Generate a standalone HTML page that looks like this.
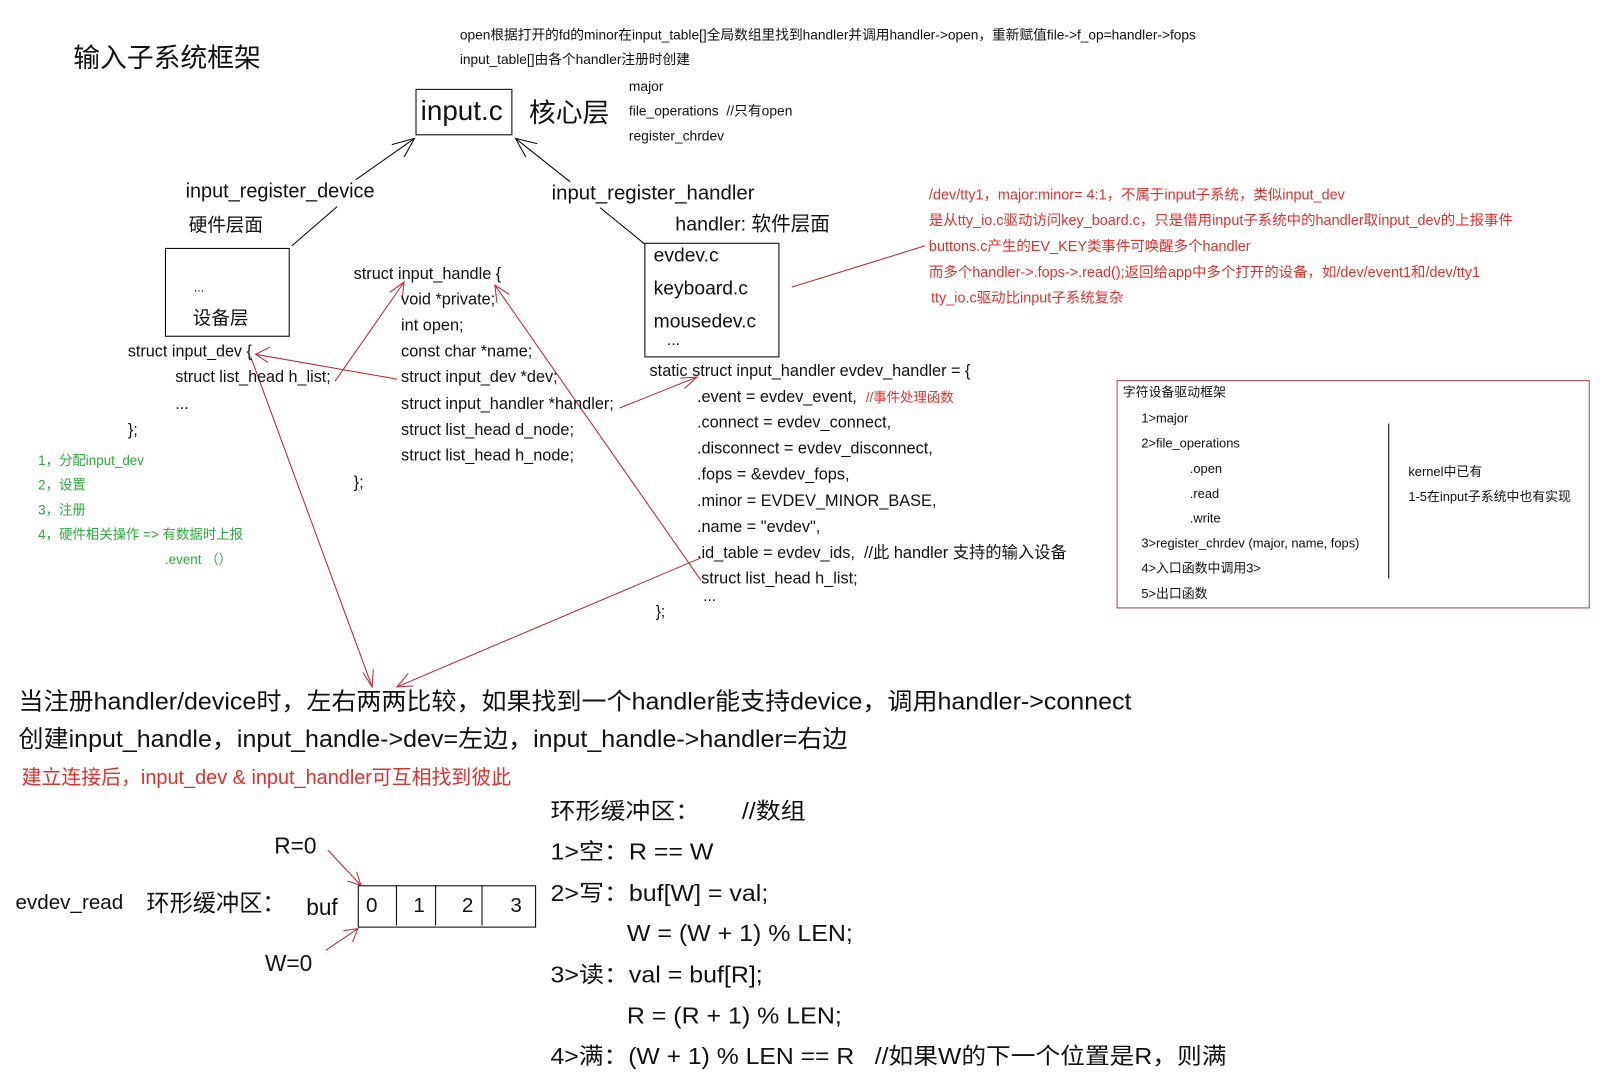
<!DOCTYPE html>
<html><head><meta charset="utf-8">
<style>
html,body{margin:0;padding:0;background:#fff;}
#outer{width:1618px;height:1083px;overflow:hidden;position:relative;background:#fff;}
#w{position:absolute;left:0;top:0;width:1570px;height:1050px;transform:scale(1.031,1.033);transform-origin:0 0;font-family:"Liberation Sans","Noto Sans CJK SC",sans-serif;color:#111;}
.t{position:absolute;white-space:nowrap;line-height:1;}
.r{color:#e0302c;}
.g{color:#2daa3c;}
.box{position:absolute;border:1.3px solid #000;}
.sx{transform-origin:0 0;}
svg{position:absolute;left:0;top:0;}
</style></head><body><div id="outer"><div id="w">
<svg width="1570" height="1050" viewBox="0 0 1570 1050">
<g stroke="#000" stroke-width="1" fill="none">
<line x1="283" y1="238" x2="327" y2="200"/>
<line x1="345" y1="174" x2="402" y2="134"/>
<polyline points="380,140 402,134 392,152"/>
<line x1="500" y1="134" x2="553" y2="176"/>
<polyline points="510,152 500,134 521,139"/>
<line x1="582" y1="201" x2="625" y2="236"/>
<line x1="1347" y1="410" x2="1347" y2="560"/>
</g>
<g stroke="#b8282c" stroke-width="1" fill="none">
<line x1="768" y1="278" x2="897" y2="238"/>
<line x1="385" y1="367" x2="248" y2="343"/>
<polyline points="262,336 248,343 260,351"/>
<line x1="325" y1="369" x2="392" y2="273"/>
<polyline points="378,283 392,273 390,290"/>
<line x1="680" y1="562" x2="480" y2="276"/>
<polyline points="482,293 480,276 494,285"/>
<line x1="243" y1="345" x2="361" y2="665"/>
<polyline points="352,651 361,665 362,648"/>
<line x1="680" y1="540" x2="385" y2="665"/>
<polyline points="396,652 385,665 401,664"/>
<line x1="601" y1="395" x2="676" y2="365"/>
<polyline points="660,366 676,365 664,376"/>
<line x1="318" y1="823" x2="350" y2="857"/>
<polyline points="337,853 350,857 346,844"/>
<line x1="316" y1="920" x2="347" y2="899"/>
<polyline points="333,901 347,899 342,912"/>
</g>
</svg>

<div class="t" style="left:71px;top:43px;font-size:26px;">输入子系统框架</div>
<div class="t" style="left:446px;top:27px;font-size:13.3px;">open根据打开的fd的minor在input_table[]全局数组里找到handler并调用handler-&gt;open，重新赋值file-&gt;f_op=handler-&gt;fops</div>
<div class="t" style="left:446px;top:51px;font-size:13.3px;">input_table[]由各个handler注册时创建</div>

<div class="box" style="left:403px;top:86px;width:92px;height:43px;"></div>
<div class="t" style="left:408px;top:94px;font-size:27px;">input.c</div>
<div class="t" style="left:513px;top:96px;font-size:26px;">核心层</div>
<div class="t" style="left:610px;top:77px;font-size:13.4px;">major</div>
<div class="t" style="left:610px;top:101px;font-size:13.4px;">file_operations &nbsp;//只有open</div>
<div class="t" style="left:610px;top:125px;font-size:13.4px;">register_chrdev</div>

<div class="t" style="left:180px;top:176px;font-size:19.3px;">input_register_device</div>
<div class="t" style="left:183px;top:209px;font-size:18px;">硬件层面</div>
<div class="box" style="left:160px;top:240px;width:119px;height:84px;"></div>
<div class="t" style="left:188px;top:272px;font-size:12px;">...</div>
<div class="t" style="left:187px;top:299px;font-size:18px;">设备层</div>

<div class="t" style="left:535px;top:178px;font-size:19.8px;">input_register_handler</div>
<div class="t" style="left:655px;top:208px;font-size:19px;">handler: 软件层面</div>
<div class="box" style="left:625px;top:235px;width:129px;height:109px;"></div>
<div class="t" style="left:634px;top:238px;font-size:18.7px;">evdev.c</div>
<div class="t" style="left:634px;top:270px;font-size:18.7px;">keyboard.c</div>
<div class="t" style="left:634px;top:302px;font-size:18.7px;">mousedev.c</div>
<div class="t" style="left:647px;top:322px;font-size:15px;">...</div>

<div class="t r" style="left:901px;top:181px;font-size:14px;">/dev/tty1，major:minor= 4:1，不属于input子系统，类似input_dev</div>
<div class="t r" style="left:901px;top:206px;font-size:14px;">是从tty_io.c驱动访问key_board.c，只是借用input子系统中的handler取input_dev的上报事件</div>
<div class="t r" style="left:901px;top:231px;font-size:14px;">buttons.c产生的EV_KEY类事件可唤醒多个handler</div>
<div class="t r" style="left:901px;top:256px;font-size:14px;">而多个handler-&gt;.fops-&gt;.read();返回给app中多个打开的设备，如/dev/event1和/dev/tty1</div>
<div class="t r" style="left:903px;top:281px;font-size:14px;">tty_io.c驱动比input子系统复杂</div>

<div class="t" style="left:124px;top:333px;font-size:15.7px;">struct input_dev {</div>
<div class="t" style="left:170px;top:358px;font-size:15.7px;">struct list_head h_list;</div>
<div class="t" style="left:170px;top:384px;font-size:15.7px;">...</div>
<div class="t" style="left:124px;top:409px;font-size:15.7px;">};</div>

<div class="t g" style="left:37px;top:439px;font-size:13px;">1，分配input_dev</div>
<div class="t g" style="left:37px;top:463px;font-size:13px;">2，设置</div>
<div class="t g" style="left:37px;top:487px;font-size:13px;">3，注册</div>
<div class="t g" style="left:37px;top:511px;font-size:13px;">4，硬件相关操作 =&gt; 有数据时上报</div>
<div class="t g" style="left:160px;top:535px;font-size:13px;">.event （）</div>

<div class="t" style="left:343px;top:258px;font-size:15.8px;">struct input_handle {</div>
<div class="t" style="left:389px;top:283px;font-size:15.8px;">void *private;</div>
<div class="t" style="left:389px;top:308px;font-size:15.8px;">int open;</div>
<div class="t" style="left:389px;top:333px;font-size:15.8px;">const char *name;</div>
<div class="t" style="left:389px;top:358px;font-size:15.8px;">struct input_dev *dev;</div>
<div class="t" style="left:389px;top:384px;font-size:15.8px;">struct input_handler *handler;</div>
<div class="t" style="left:389px;top:409px;font-size:15.8px;">struct list_head d_node;</div>
<div class="t" style="left:389px;top:434px;font-size:15.8px;">struct list_head h_node;</div>
<div class="t" style="left:343px;top:460px;font-size:15.8px;">};</div>

<div class="t" style="left:630px;top:352px;font-size:15.8px;">static struct input_handler evdev_handler = {</div>
<div class="t" style="left:676px;top:377px;font-size:15.8px;">.event = evdev_event, &nbsp;<span class="r" style="font-size:13px;">//事件处理函数</span></div>
<div class="t" style="left:676px;top:402px;font-size:15.8px;">.connect = evdev_connect,</div>
<div class="t" style="left:676px;top:427px;font-size:15.8px;">.disconnect = evdev_disconnect,</div>
<div class="t" style="left:676px;top:452px;font-size:15.8px;">.fops = &amp;evdev_fops,</div>
<div class="t" style="left:676px;top:478px;font-size:15.8px;">.minor = EVDEV_MINOR_BASE,</div>
<div class="t" style="left:676px;top:503px;font-size:15.8px;">.name = "evdev",</div>
<div class="t" style="left:676px;top:528px;font-size:15.8px;">.id_table = evdev_ids, &nbsp;//此 handler 支持的输入设备</div>
<div class="t" style="left:680px;top:553px;font-size:15.8px;">struct list_head h_list;</div>
<div class="t" style="left:682px;top:570px;font-size:15px;">...</div>
<div class="t" style="left:636px;top:585px;font-size:15px;">};</div>

<div class="box" style="left:1083px;top:368px;width:457px;height:219px;border-color:#b04050;"></div>
<div class="t" style="left:1089px;top:374px;font-size:12.5px;">字符设备驱动框架</div>
<div class="t" style="left:1107px;top:399px;font-size:12.5px;">1&gt;major</div>
<div class="t" style="left:1107px;top:423px;font-size:12.5px;">2&gt;file_operations</div>
<div class="t" style="left:1154px;top:448px;font-size:12.5px;">.open</div>
<div class="t" style="left:1154px;top:472px;font-size:12.5px;">.read</div>
<div class="t" style="left:1154px;top:496px;font-size:12.5px;">.write</div>
<div class="t" style="left:1107px;top:520px;font-size:12.5px;">3&gt;register_chrdev (major, name, fops)</div>
<div class="t" style="left:1107px;top:544px;font-size:12.5px;">4&gt;入口函数中调用3&gt;</div>
<div class="t" style="left:1107px;top:569px;font-size:12.5px;">5&gt;出口函数</div>
<div class="t" style="left:1366px;top:451px;font-size:12.5px;">kernel中已有</div>
<div class="t" style="left:1366px;top:475px;font-size:12.5px;">1-5在input子系统中也有实现</div>

<div class="t sx" style="left:18px;top:668px;font-size:23px;transform:scaleX(1.055);">当注册handler/device时，左右两两比较，如果找到一个handler能支持device，调用handler-&gt;connect</div>
<div class="t sx" style="left:18px;top:704px;font-size:23px;transform:scaleX(1.055);">创建input_handle，input_handle-&gt;dev=左边，input_handle-&gt;handler=右边</div>
<div class="t r" style="left:21px;top:744px;font-size:19.3px;">建立连接后，input_dev &amp; input_handler可互相找到彼此</div>

<div class="t sx" style="left:534px;top:775px;font-size:22px;transform:scaleX(1.1);">环形缓冲区： &nbsp;&nbsp;&nbsp;&nbsp;&nbsp;//数组</div>
<div class="t sx" style="left:534px;top:814px;font-size:22px;transform:scaleX(1.1);">1&gt;空：R == W</div>
<div class="t sx" style="left:534px;top:854px;font-size:22px;transform:scaleX(1.1);">2&gt;写：buf[W] = val;</div>
<div class="t sx" style="left:608px;top:893px;font-size:22px;transform:scaleX(1.1);">W = (W + 1) % LEN;</div>
<div class="t sx" style="left:534px;top:933px;font-size:22px;transform:scaleX(1.1);">3&gt;读：val = buf[R];</div>
<div class="t sx" style="left:608px;top:973px;font-size:22px;transform:scaleX(1.1);">R = (R + 1) % LEN;</div>
<div class="t sx" style="left:534px;top:1012px;font-size:22px;transform:scaleX(1.09);">4&gt;满：(W + 1) % LEN == R &nbsp;&nbsp;//如果W的下一个位置是R，则满</div>

<div class="t" style="left:15px;top:864px;font-size:20px;">evdev_read</div>
<div class="t" style="left:142px;top:864px;font-size:22.5px;">环形缓冲区：</div>
<div class="t" style="left:297px;top:868px;font-size:22px;">buf</div>
<div class="t" style="left:266px;top:808px;font-size:22px;">R=0</div>
<div class="t" style="left:257px;top:922px;font-size:22px;">W=0</div>
<div class="box" style="left:347px;top:857px;width:171px;height:39px;"></div>
<div class="box" style="left:384px;top:857px;width:0;height:39px;border-width:0 0 0 1.3px;"></div>
<div class="box" style="left:422px;top:857px;width:0;height:39px;border-width:0 0 0 1.3px;"></div>
<div class="box" style="left:467px;top:857px;width:0;height:39px;border-width:0 0 0 1.3px;"></div>
<div class="t" style="left:355px;top:867px;font-size:20px;">0</div>
<div class="t" style="left:401px;top:867px;font-size:20px;">1</div>
<div class="t" style="left:448px;top:867px;font-size:20px;">2</div>
<div class="t" style="left:495px;top:867px;font-size:20px;">3</div>
</div></div></body></html>
